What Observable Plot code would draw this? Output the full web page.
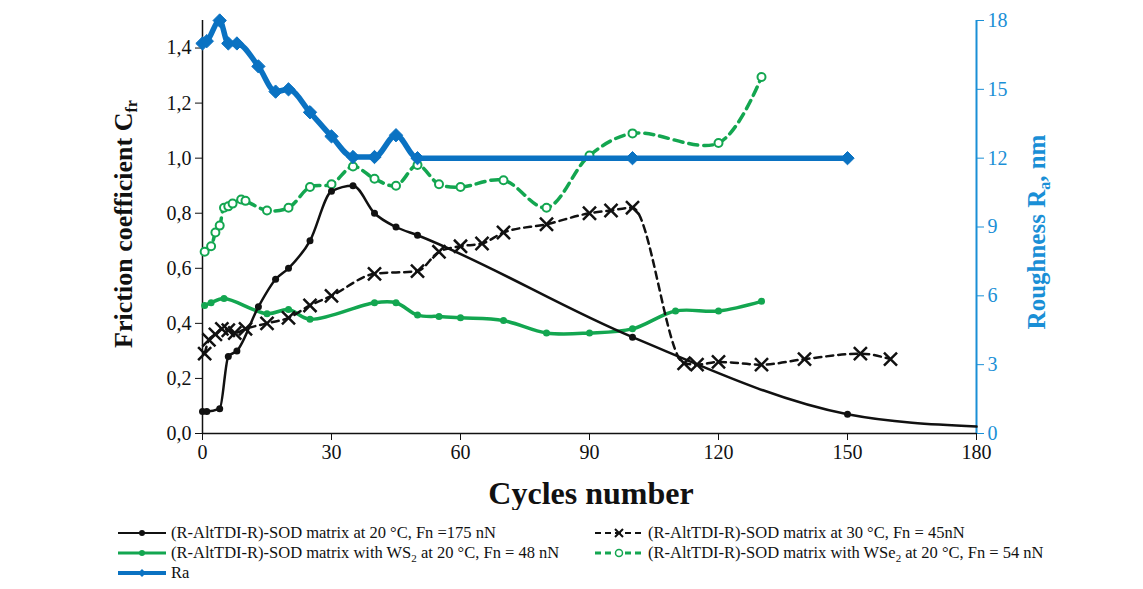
<!DOCTYPE html>
<html>
<head>
<meta charset="utf-8">
<script src="https://cdn.jsdelivr.net/npm/d3@7"></script>
<script src="https://cdn.jsdelivr.net/npm/@observablehq/plot@0.6"></script>
<style>
  body { margin: 0; background: #fff; }
  #wrap { position: relative; width: 1143px; height: 589px; }
  #legend { position: absolute; left: 0; top: 515px; }
</style>
</head>
<body>
<div id="wrap"><div id="chart"></div><svg id="legend" width="1143" height="74"></svg></div>
<script>
// ---- data ----
const xTicks = [0, 30, 60, 90, 120, 150, 180];
const yTicks = [0, 0.2, 0.4, 0.6, 0.8, 1.0, 1.2, 1.4];
const raTicks = [0, 3, 6, 9, 12, 15, 18];

const cyc20 = [0, 1, 4, 6, 8, 13, 17, 20, 25, 30, 35, 40, 45, 50, 100, 150, 180];
const cf20  = [0.08, 0.08, 0.09, 0.28, 0.30, 0.46, 0.56, 0.60, 0.70, 0.88, 0.90, 0.80, 0.75, 0.72, 0.35, 0.07, 0.025];

const cyc30 = [0.5, 1.5, 3, 4.5, 6, 7.5, 10, 15, 20, 25, 30, 40, 50, 55, 60, 65, 70, 80, 90, 95, 100, 112, 115, 120, 130, 140, 153, 160];
const cf30  = [0.29, 0.34, 0.36, 0.38, 0.375, 0.365, 0.38, 0.40, 0.42, 0.465, 0.50, 0.58, 0.59, 0.66, 0.68, 0.69, 0.73, 0.76, 0.80, 0.81, 0.82, 0.255, 0.25, 0.26, 0.25, 0.27, 0.29, 0.27];

const cycWS2 = [0.5, 2, 5, 15, 20, 25, 40, 45, 50, 55, 60, 70, 80, 90, 100, 110, 120, 130];
const cfWS2  = [0.465, 0.475, 0.49, 0.435, 0.45, 0.415, 0.475, 0.475, 0.43, 0.425, 0.42, 0.41, 0.365, 0.365, 0.38, 0.445, 0.445, 0.48];

const cycWSe2 = [0.5, 2, 3, 4, 5, 6, 7, 9, 10, 15, 20, 25, 30, 35, 40, 45, 50, 55, 60, 70, 80, 90, 100, 120, 130];
const cfWSe2  = [0.66, 0.68, 0.73, 0.755, 0.82, 0.825, 0.835, 0.85, 0.845, 0.81, 0.82, 0.895, 0.905, 0.97, 0.925, 0.90, 0.975, 0.905, 0.895, 0.92, 0.82, 1.01, 1.09, 1.055, 1.295];

const cycRa = [0, 1, 4, 6, 8, 13, 17, 20, 25, 30, 35, 40, 45, 50, 100, 150];
const ra    = [17, 17.1, 18, 17, 17, 16, 14.9, 15, 14, 12.95, 12.05, 12.05, 13, 12, 12, 12];

const legendLabels = [
  "(R-AltTDI-R)-SOD matrix at 20 °C, Fn =175 nN",
  "(R-AltTDI-R)-SOD matrix at 30 °C, Fn = 45nN",
  "(R-AltTDI-R)-SOD matrix with WS|2| at 20 °C, Fn = 48 nN",
  "(R-AltTDI-R)-SOD matrix with WSe|2| at 20 °C, Fn = 54 nN",
  "Ra"
];

// ---- build ----
const RA_MAX = 18, CF_MAX = 1.5, k = RA_MAX / CF_MAX;
const zip = (xs, ys) => xs.map((x, i) => ({x, y: ys[i]}));
const d20 = zip(cyc20, cf20), d30 = zip(cyc30, cf30), dWS2 = zip(cycWS2, cfWS2), dWSe2 = zip(cycWSe2, cfWSe2);
const dRa = cycRa.map((x, i) => ({x, y: ra[i] / k}));

const BLACK = "#111", GREEN = "#13a650", BLUE = "#0a72c2", AXBLUE = "#1a8fd6";
const smooth = "catmull-rom", mono = "monotone-x";

const chart = Plot.plot({
  width: 1143, height: 510,
  marginLeft: 202, marginRight: 167, marginTop: 20, marginBottom: 77,
  x: {domain: [0, 180]},
  y: {domain: [0, CF_MAX]},
  style: {fontFamily: "'Liberation Serif', 'Times New Roman', serif", fontSize: "20px", color: "#111", background: "white"},
  marks: [
    Plot.axisX({ticks: xTicks, tickSize: 7, tickPadding: 4, label: null, fontSize: 20}),
    Plot.axisY({ticks: yTicks, tickSize: 7, tickPadding: 4, label: null, fontSize: 20,
      tickFormat: d => d.toFixed(1).replace(".", ",")}),
    Plot.axisY({anchor: "right", ticks: raTicks.map(v => v / k), tickSize: 7, tickPadding: 4, label: null, fontSize: 20,
      stroke: AXBLUE, fill: AXBLUE, tickFormat: v => String(Math.round(v * k))}),
    Plot.ruleX([180], {y1: 0, y2: CF_MAX, stroke: AXBLUE, strokeWidth: 2}),
    Plot.ruleX([0], {y1: 0, y2: CF_MAX, stroke: BLACK, strokeWidth: 1.5}),
    Plot.ruleY([0], {x1: 0, x2: 180, stroke: BLACK, strokeWidth: 1.5}),

    Plot.line(dWS2, {x: "x", y: "y", stroke: GREEN, strokeWidth: 3.5, curve: smooth}),
    Plot.dot(dWS2, {x: "x", y: "y", r: 3.5, fill: GREEN}),

    Plot.line(dWSe2, {x: "x", y: "y", stroke: GREEN, strokeWidth: 3.5, strokeDasharray: "9,6", curve: smooth}),
    Plot.dot(dWSe2, {x: "x", y: "y", r: 4, fill: "white", stroke: GREEN, strokeWidth: 2}),

    Plot.line(d20, {x: "x", y: "y", stroke: BLACK, strokeWidth: 2.5, curve: mono}),
    Plot.dot(d20.filter(d => d.x < 180), {x: "x", y: "y", r: 3.5, fill: BLACK}),

    Plot.line(d30, {x: "x", y: "y", stroke: BLACK, strokeWidth: 2.5, strokeDasharray: "7,5", curve: mono}),
    Plot.dot(d30, {x: "x", y: "y", r: 6, symbol: "times", stroke: BLACK, strokeWidth: 2.5}),

    Plot.line(dRa, {x: "x", y: "y", stroke: BLUE, strokeWidth: 5.5, curve: mono}),
    Plot.dot(dRa, {x: "x", y: "y", r: 6, symbol: "diamond2", fill: BLUE, stroke: BLUE, strokeWidth: 1})
  ]
});
document.getElementById("chart").appendChild(chart);

// axis titles with sub-scripts
const svg = d3.select(chart);
const serif = "'Liberation Serif', 'Times New Roman', serif";
svg.append("text").attr("x", 591).attr("y", 504).attr("text-anchor", "middle")
  .attr("font-family", serif).attr("font-size", 32).attr("font-weight", "bold").attr("fill", "#111")
  .text("Cycles number");
const lt = svg.append("text").attr("transform", "translate(132,224) rotate(-90)").attr("text-anchor", "middle")
  .attr("font-family", serif).attr("font-size", 26).attr("font-weight", "bold").attr("fill", "#111");
lt.append("tspan").text("Friction coefficient C");
lt.append("tspan").attr("font-size", 16).attr("dy", 5).text("fr");
const rt = svg.append("text").attr("transform", "translate(1045,232) rotate(-90)").attr("text-anchor", "middle")
  .attr("font-family", serif).attr("font-size", 25).attr("font-weight", "bold").attr("fill", AXBLUE);
rt.append("tspan").text("Roughness R");
rt.append("tspan").attr("font-size", 16).attr("dy", 5).text("a");
rt.append("tspan").attr("dy", -5).text(", nm");

// legend
const lg = d3.select("#legend");
const entries = [
  {i: 0, x: 118, y: 18, stroke: BLACK, dash: null, w: 2, mark: "dot"},
  {i: 1, x: 595, y: 18, stroke: BLACK, dash: "6,4", w: 2, mark: "x"},
  {i: 2, x: 118, y: 38, stroke: GREEN, dash: null, w: 3, mark: "gdot"},
  {i: 3, x: 595, y: 38, stroke: GREEN, dash: "6,4", w: 3, mark: "ring"},
  {i: 4, x: 118, y: 58, stroke: BLUE, dash: null, w: 4, mark: "diamond"}
];
for (const e of entries) {
  const x2 = e.x + 48, cx = e.x + 24;
  lg.append("line").attr("x1", e.x).attr("x2", x2).attr("y1", e.y).attr("y2", e.y)
    .attr("stroke", e.stroke).attr("stroke-width", e.w).attr("stroke-dasharray", e.dash);
  if (e.mark === "dot") lg.append("circle").attr("cx", cx).attr("cy", e.y).attr("r", 3).attr("fill", BLACK);
  if (e.mark === "gdot") lg.append("circle").attr("cx", cx).attr("cy", e.y).attr("r", 3).attr("fill", GREEN);
  if (e.mark === "ring") lg.append("circle").attr("cx", cx).attr("cy", e.y).attr("r", 3.5).attr("fill", "white").attr("stroke", GREEN).attr("stroke-width", 1.5);
  if (e.mark === "x") lg.append("path").attr("d", `M${cx-4},${e.y-4}L${cx+4},${e.y+4}M${cx-4},${e.y+4}L${cx+4},${e.y-4}`).attr("stroke", BLACK).attr("stroke-width", 2);
  if (e.mark === "diamond") lg.append("path").attr("d", `M${cx},${e.y-4}L${cx+4},${e.y}L${cx},${e.y+4}L${cx-4},${e.y}Z`).attr("fill", BLUE);
  const t = lg.append("text").attr("x", x2 + 5).attr("y", e.y + 5)
    .attr("font-family", serif).attr("font-size", 16.5).attr("fill", "#111");
  const parts = legendLabels[e.i].split("|");
  parts.forEach((p, j) => {
    const ts = t.append("tspan").text(p);
    if (j === 1) ts.attr("font-size", 11).attr("dy", 4);
    if (j === 2) ts.attr("dy", -4);
  });
}
</script>
</body>
</html>
